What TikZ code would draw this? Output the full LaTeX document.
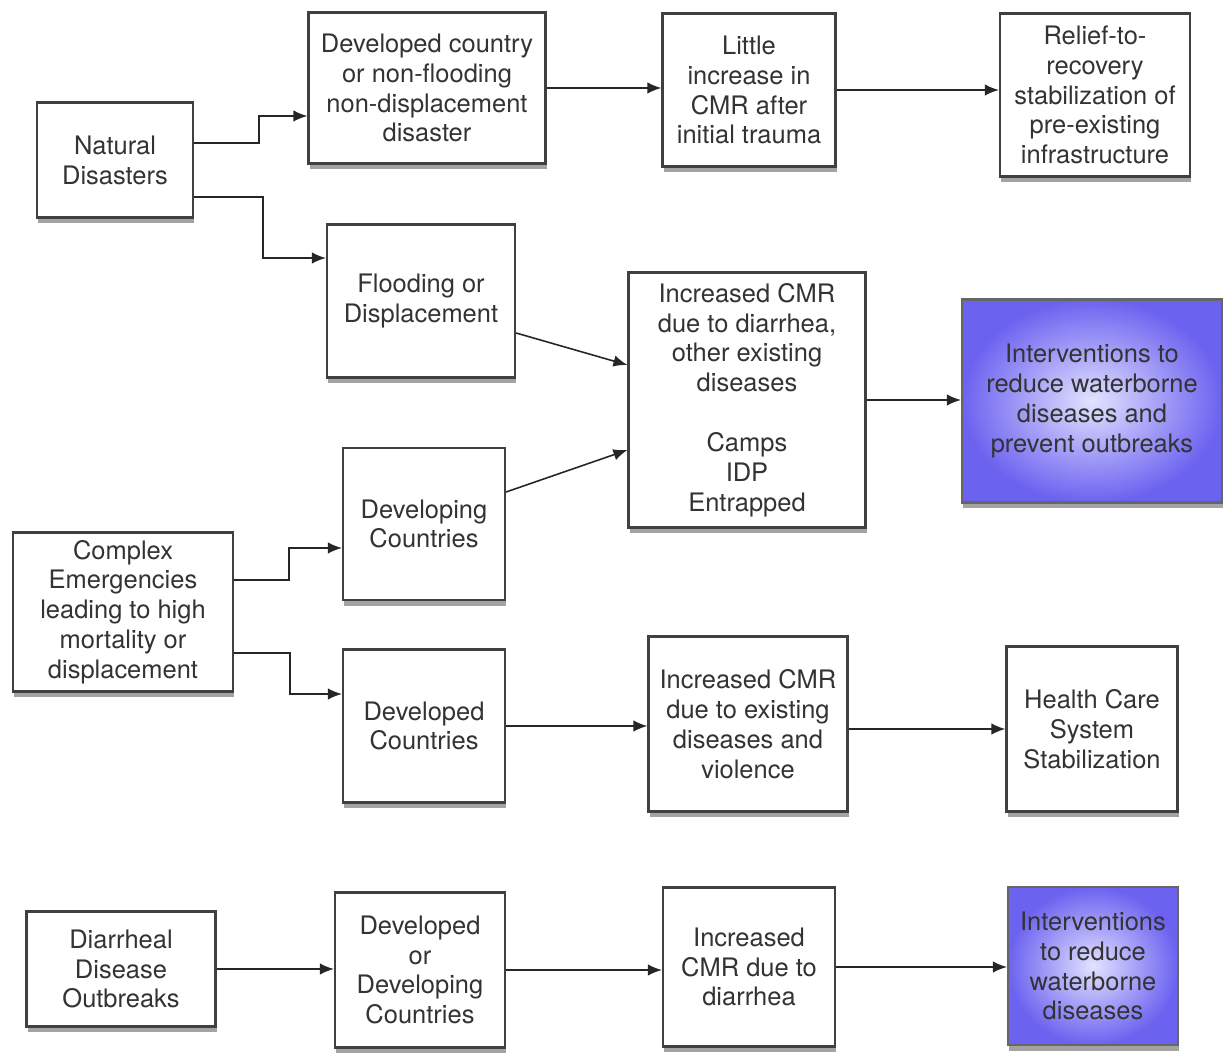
\documentclass[tikz,border=0pt]{standalone}
\usepackage{fontspec}
\setmainfont{TeX Gyre Heros}
\usetikzlibrary{arrows, arrows.meta, shadows}
\definecolor{ivblue}{RGB}{108,98,240}
\definecolor{ivpale}{RGB}{226,226,255}
\tikzstyle{box} = [rectangle, draw=black!75, line width=1.2pt, fill=white, text=black!80, align=center, inner sep=2pt, font=\fontsize{14.5}{17}\selectfont, drop shadow={shadow xshift=0.8pt, shadow yshift=-3.4pt, fill=black!60, opacity=0.6}]
\tikzstyle{action} = [box, draw=black!60, shading=radial, inner color=ivpale, outer color=ivblue]
\tikzstyle{arrow} = [line width=0.9pt, draw=black!85, ->, >={Latex[length=8pt,width=6.5pt]}]

\begin{document}
\begin{tikzpicture}[x=0.02cm, y=-0.02cm]
\useasboundingbox (0,0) rectangle (1227,1053);

% natural disasters
\node (nat) [box, minimum width=3.12cm, minimum height=2.3cm] at (115,160) {Natural\\Disasters};
\node (devnf) [box, minimum width=4.74cm, minimum height=3.02cm] at (427,88) {Developed country\\or non-flooding\\non-displacement\\disaster};
\node (little) [box, minimum width=3.46cm, minimum height=3.06cm] at (749,90) {Little\\increase in\\CMR after\\initial trauma};
\node (relief) [box, minimum width=3.8cm, minimum height=3.26cm] at (1095,95) {Relief-to-\\recovery\\stabilization of\\pre-existing\\infrastructure};
\node (flood) [box, minimum width=3.76cm, minimum height=3.06cm] at (421,301) {Flooding or\\Displacement};
\node (incdiar) [box, minimum width=4.74cm, minimum height=5.1cm] at (747,400) {Increased CMR\\due to diarrhea,\\other existing\\diseases\\[17pt]Camps\\IDP\\Entrapped};
\node (intwb) [action, minimum width=5.2cm, minimum height=4.06cm] at (1092,401) {Interventions to\\reduce waterborne\\diseases and\\prevent outbreaks};

% complex emergencies
\node (devg) [box, minimum width=3.24cm, minimum height=3.04cm] at (424,524) {Developing\\Countries};
\node (complex) [box, minimum width=4.4cm, minimum height=3.18cm] at (123,612) {Complex\\Emergencies\\leading to high\\mortality or\\displacement};
\node (devd) [box, minimum width=3.24cm, minimum height=3.06cm] at (424,726) {Developed\\Countries};
\node (inccmrv) [box, minimum width=3.98cm, minimum height=3.5cm] at (748,724) {Increased CMR\\due to existing\\diseases and\\violence};
\node (health) [box, minimum width=3.42cm, minimum height=3.3cm] at (1092,729) {Health Care\\System\\Stabilization};

% outbreaks
\node (diarout) [box, minimum width=3.78cm, minimum height=2.3cm] at (121,969) {Diarrheal\\Disease\\Outbreaks};
\node (devor) [box, minimum width=3.4cm, minimum height=3.1cm] at (420,970) {Developed\\or\\Developing\\Countries};
\node (inccmrd) [box, minimum width=3.44cm, minimum height=3.18cm] at (749,967) {Increased\\CMR due to\\diarrhea};
\node (intw2) [action, minimum width=3.4cm, minimum height=3.16cm] at (1093,966) {Interventions\\to reduce\\waterborne\\diseases};

\draw [arrow] ([yshift=0.34cm]nat.east) -- ++(1.3cm,0) |- ([yshift=-0.56cm]devnf.west);
\draw [arrow] ([yshift=-0.74cm]nat.east) -- ++(1.38cm,0) |- ([yshift=0.86cm]flood.west);
\draw [arrow] (devnf.east) -- (devnf.east -| little.west);
\draw [arrow] (little.east) -- (little.east -| relief.west);
\draw [arrow] ([yshift=-0.64cm]flood.east) -- ([yshift=0.7cm]incdiar.west);
\draw [arrow] ([yshift=0.64cm]devg.east) -- ([yshift=-1cm]incdiar.west);
\draw [arrow] (incdiar.east) -- (incdiar.east -| intwb.west);
\draw [arrow] ([yshift=0.64cm]complex.east) -- ++(1.1cm,0) |- ([yshift=-0.48cm]devg.west);
\draw [arrow] ([yshift=-0.82cm]complex.east) -- ++(1.12cm,0) |- ([yshift=0.64cm]devd.west);
\draw [arrow] (devd.east) -- (devd.east -| inccmrv.west);
\draw [arrow] ([yshift=-0.1cm]inccmrv.east) -- ([yshift=-0.1cm]inccmrv.east -| health.west);
\draw [arrow] (diarout.east) -- (diarout.east -| devor.west);
\draw [arrow] (devor.east) -- (devor.east -| inccmrd.west);
\draw [arrow] (inccmrd.east) -- (inccmrd.east -| intw2.west);

\end{tikzpicture}
\end{document}
